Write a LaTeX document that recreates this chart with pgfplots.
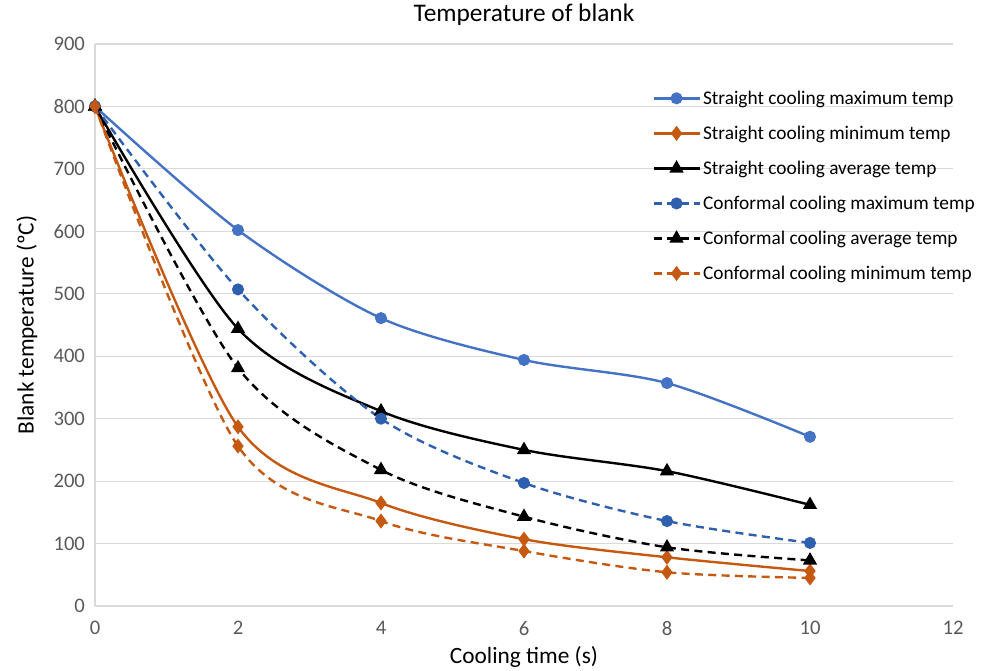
\documentclass[border=0pt]{standalone}
\usepackage{fontspec}
\setmainfont{Carlito}
\usepackage{pgfplots}
\pgfplotsset{compat=1.18}
\definecolor{xlblue}{HTML}{4472C4}
\definecolor{xldblue}{HTML}{2F5FAF}
\definecolor{xlorange}{HTML}{C65911}
\definecolor{xlgrid}{HTML}{D9D9D9}
\definecolor{xltext}{HTML}{595959}

\begin{document}
\begin{tikzpicture}
\begin{axis}[
    scale only axis,
    width=643.5pt, height=421.5pt,
    xmin=0, xmax=12, ymin=0, ymax=900,
    xtick={0,2,...,12}, ytick={0,100,...,900},
    /pgf/number format/assume math mode=true,
    ymajorgrids, grid style={xlgrid, line width=0.8pt},
    axis x line*=bottom, axis y line*=left,
    axis line style={xlgrid, line width=0.8pt, -},
    tick style={draw=none},
    ticklabel style={font=\fontsize{15.5}{17}\selectfont, text=xltext},
    yticklabel style={xshift=-4pt},
    xticklabel style={yshift=-8pt},
    title={Temperature of blank},
    title style={font=\fontsize{19}{21}\selectfont, text=black, at={(axis description cs:0.5,1)}, anchor=base, yshift=11pt},
    xlabel={Cooling time (s)},
    ylabel={Blank temperature (ºC)},
    label style={font=\fontsize{17.5}{19}\selectfont, text=black},
    xlabel style={at={(axis description cs:0.5,0)}, anchor=base, yshift=-43pt},
    ylabel style={at={(axis description cs:0,0.5)}, anchor=base, xshift=0pt, yshift=46pt},
    legend style={at={(0.645,0.927)}, anchor=north west, draw=none, fill=none,
        font=\fontsize{14.5}{16}\selectfont, row sep=10.7pt,
        /tikz/every even column/.append style={column sep=2pt}},
    legend cell align=left,
    legend image code/.code={
        \draw[mark repeat=2, mark phase=2] plot coordinates {(0pt,0pt)(17pt,0pt)(34pt,0pt)};},
    every axis plot/.append style={line width=1.8pt, smooth, tension=0.5},
]
\addplot[xlblue, mark=*, mark size=3.6pt, mark options={solid}] coordinates {
    (0,800)(2,602)(4,461)(6,394)(8,357)(10,271)};
\addlegendentry{Straight cooling maximum temp}
\addplot[xlorange, mark=diamond*, mark size=4.2pt, mark options={solid}] coordinates {
    (0,800)(2,287)(4,165)(6,107)(8,78)(10,56)};
\addlegendentry{Straight cooling minimum temp}
\addplot[black, mark=triangle*, mark size=4.4pt, mark options={solid}] coordinates {
    (0,800)(2,444)(4,312)(6,250)(8,216)(10,162)};
\addlegendentry{Straight cooling average temp}
\addplot[xldblue, dashed, dash pattern=on 6pt off 4pt, mark=*, mark size=3.6pt, mark options={solid}] coordinates {
    (0,800)(2,507)(4,300)(6,197)(8,136)(10,101)};
\addlegendentry{Conformal cooling maximum temp}
\addplot[black, dashed, dash pattern=on 6pt off 4pt, mark=triangle*, mark size=4.4pt, mark options={solid}] coordinates {
    (0,800)(2,381)(4,218)(6,143)(8,94)(10,73)};
\addlegendentry{Conformal cooling average temp}
\addplot[xlorange, dashed, dash pattern=on 6pt off 4pt, mark=diamond*, mark size=4.2pt, mark options={solid}] coordinates {
    (0,800)(2,256)(4,136)(6,88)(8,54)(10,45)};
\addlegendentry{Conformal cooling minimum temp}
\end{axis}
\pgfresetboundingbox
\path (-71.25pt,-48.75pt) rectangle (684pt,454.5pt);
\end{tikzpicture}
\end{document}
